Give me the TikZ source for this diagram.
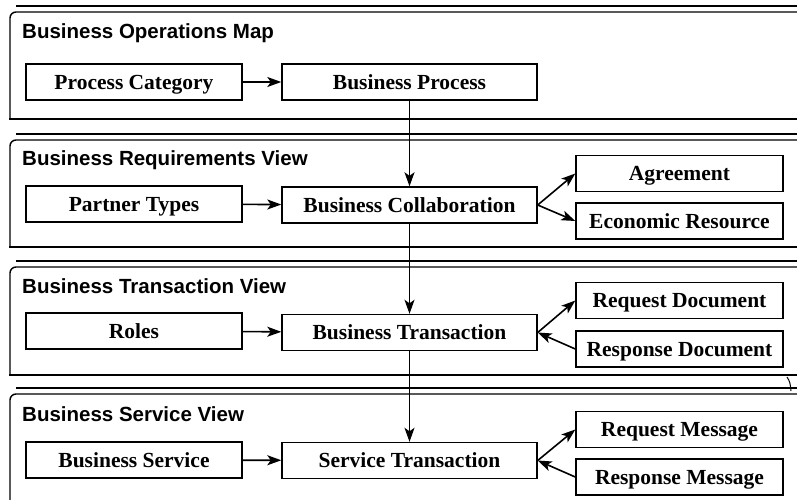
\documentclass[tikz,border=0pt]{standalone}
\usepackage{fontspec}
\setmainfont{Liberation Serif}
\newfontfamily\headfont{Liberation Sans}
\usetikzlibrary{arrows.meta}

\begin{document}
\begin{tikzpicture}[x=1pt,y=-1pt,
  panel/.style={line width=1.4pt},
  head/.style={anchor=base west,inner sep=0pt,font=\headfont\bfseries\fontsize{20.5}{24}\selectfont},
  box/.style={draw,line width=1.4pt,minimum height=36pt,inner sep=0pt,text height=17pt,text depth=2.4pt,font=\bfseries\fontsize{21.5}{26}\selectfont},
  lbox/.style={box,minimum width=216pt},
  mbox/.style={box,minimum width=255pt},
  rbox/.style={box,minimum width=207pt},
  link/.style={line width=1.6pt,-{Stealth[length=14pt,width=10pt,inset=3.5pt]}}]
\useasboundingbox (0,0) rectangle (797,500);
\begin{scope}
\clip (0,0) rectangle (797,500);
% layers
\foreach \t/\b in {12/119, 140/247, 267/375, 394/520} {
  \draw [panel, rounded corners=6pt] (820,\t) -- (10,\t) -- (10,\b);
  \draw [panel] (9.3,\b) -- (820,\b);
  \draw [panel] (16,\t-6) -- (820,\t-6);
}
\draw [line width=1pt] (787,377) .. controls (790,382) .. (791,391);
\end{scope}
\node [head] (mapT) at (22,39) {Business Operations Map};
\node [head] (reqT) at (22,165) {Business Requirements View};
\node [head] (traT) at (22,293) {Business Transaction View};
\node [head] (serT) at (22,421) {Business Service View};
% boxes
\node [lbox] (cat) at (134,82) {Process Category};
\node [mbox] (proc) at (409.5,82) {Business Process};
\node [lbox] (partner) at (134,204) {Partner Types};
\node [mbox] (collab) at (409.5,205) {Business Collaboration};
\node [rbox] (agree) at (679.5,173.5) {Agreement};
\node [rbox] (resource) at (679.5,221) {Economic Resource};
\node [lbox] (roles) at (134,331) {Roles};
\node [mbox] (trans) at (409.5,332.5) {Business Transaction};
\node [rbox] (reqdoc) at (679.5,300.5) {Request Document};
\node [rbox] (resdoc) at (679.5,349) {Response Document};
\node [lbox] (service) at (134,460) {Business Service};
\node [mbox] (strans) at (409.5,460.5) {Service Transaction};
\node [rbox] (reqmsg) at (679.5,429.5) {Request Message};
\node [rbox] (resmsg) at (679.5,477) {Response Message};
% arrows
\draw [link] (cat) -- (proc);
\draw [link] (partner) -- (collab);
\draw [link] (roles) -- (trans);
\draw [link] (service) -- (strans);
\draw [link] (proc) -- (collab);
\draw [link] (collab) -- (trans);
\draw [link] (trans) -- (strans);
\draw [link] (collab.east) -- (agree.west);
\draw [link] (collab.east) -- (resource.west);
\draw [link] (trans.east) -- (reqdoc.west);
\draw [link] (resdoc.west) -- (trans.east);
\draw [link] (strans.east) -- (reqmsg.west);
\draw [link] (resmsg.west) -- (strans.east);
\end{tikzpicture}
\end{document}
